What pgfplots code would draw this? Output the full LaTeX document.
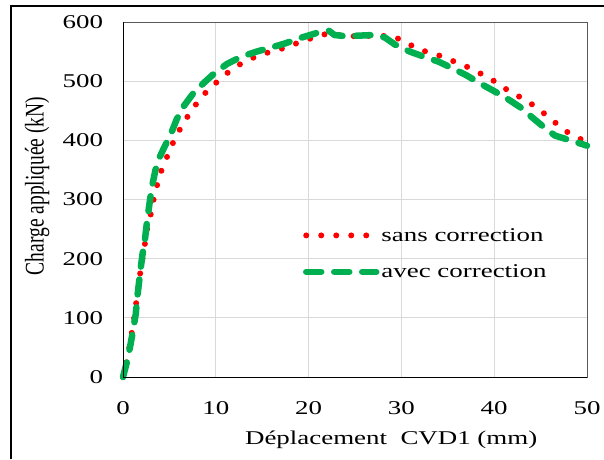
\documentclass[border=0pt]{standalone}
\usepackage{fontspec}
\setmainfont{Liberation Serif}[FakeStretch=1.38]
\newfontfamily\plainserif{Liberation Serif}
\usepackage{pgfplots}
\pgfplotsset{compat=1.18}
\definecolor{exred}{HTML}{FF0000}
\definecolor{exgreen}{HTML}{00B050}
\definecolor{gridc}{HTML}{D9D9D9}
\begin{document}
\begin{tikzpicture}[x=1pt,y=1pt,font=\fontsize{19.5}{23}\selectfont]
\useasboundingbox (0,0) rectangle (604,459);
\draw[line width=2pt] (11,0) -- (11,453) -- (604,453);
\begin{axis}[
  at={(123pt,82pt)}, anchor=south west,
  width=464pt, height=355pt, scale only axis,
  xmin=0, xmax=50, ymin=0, ymax=600,
  xtick={0,10,...,50}, ytick={0,100,...,600},
  grid=major, grid style={gridc, line width=1pt},
  major tick length=0pt,
  axis line style={draw=black!65, line width=1pt},
  /pgf/number format/assume math mode=true,
  yticklabel style={xshift=-16.5pt},
  xticklabel style={yshift=-20.5pt},
  xlabel={Déplacement\ \ CVD1 (mm)},
  xlabel style={at={(axis description cs:0.578,0)}, anchor=base, yshift=-67pt},
  ylabel={\plainserif Charge appliquée (kN)},
  ylabel style={at={(axis description cs:-0.185,0.538)}, anchor=center, yscale=1.38},
  clip=false,
  legend style={at={(axis description cs:0.381,0.431)}, anchor=north west, draw=none, fill=none, row sep=18pt, font=\fontsize{19.5}{23}\selectfont},
  legend cell align=left,
  legend image code/.code={\draw[#1] (0pt,0pt) -- (70pt,0pt);},
]
\addplot[exred, line width=6pt, line cap=round, dash pattern=on 0pt off 15pt] coordinates {
(0,0)(0.45,30)(0.85,65)(1.2,100)(1.55,140)(1.85,175)(2.15,205)(2.37,226)(2.6,250)(3.0,276)(3.3,300)(3.7,326)(4.2,352)(4.85,376)(5.5,400)(6.25,422)(7.15,445)(8.1,466)(9.2,486)(10.45,503)(11.7,520)(13.1,533)(14.65,544)(16.2,551)(17.8,558)(19.3,568)(20.9,575)(22.3,582)(24.1,575)(25.6,577)(27.4,576)(28.95,577)(30.45,566)(31.9,553)(33.5,547)(35.05,537)(36.6,528)(38.0,517)(39.55,505)(40.9,490)(42.35,477)(43.8,464)(45.1,449)(46.35,433)(47.65,416)(49.1,404)(50,396)
};
\addlegendentry{sans correction}
\addplot[exgreen, line width=6.5pt, line cap=round, line join=round, dash pattern=on 15pt off 13pt] coordinates {
(0,0)(0.4,24)(0.75,50)(1.04,75)(1.37,106)(1.58,140)(1.83,174)(2.08,205)(2.37,233)(2.6,264)(2.9,298)(3.1,320)(3.5,350)(3.9,370)(4.5,390)(5.14,410)(5.8,436)(6.6,459)(7.6,480)(8.7,497)(9.9,514)(11.2,529)(12.7,541)(14.4,550)(16,557)(17.5,564)(19.3,574)(21.0,582)(22.2,585)(22.8,578)(24,576)(25.5,577)(27,578)(28.2,574)(29.3,562)(30.9,550)(32.5,541)(34.0,533)(35.6,521)(37.0,510)(38.5,496)(39.9,484)(41.35,471)(42.8,456)(44.0,440)(45.3,423)(46.55,408)(48.2,400)(50,391)
};
\addlegendentry{avec correction}
\draw[black, line width=1pt] (rel axis cs:0,1) -- (rel axis cs:0,0) -- (rel axis cs:1,0);
\end{axis}
\end{tikzpicture}
\end{document}
